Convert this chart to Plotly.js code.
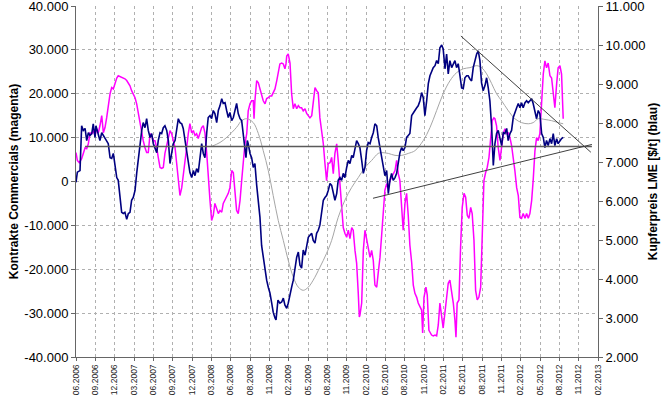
<!DOCTYPE html>
<html>
<head>
<meta charset="utf-8">
<script src="https://cdn.plot.ly/plotly-3.0.1.min.js"></script>
<style>html,body{margin:0;padding:0;background:#fff;}#chart{width:670px;height:395px;}</style>
</head>
<body>
<div id="chart"></div>
<script>
// x tick labels (one every 13 weeks)
const xLabels = ['06.2006','09.2006','12.2006','03.2007','06.2007','09.2007','12.2007','03.2008','06.2008','08.2008','11.2008','02.2009','05.2009','08.2009','11.2009','02.2010','05.2010','08.2010','11.2010','02.2011','05.2011','08.2011','11.2011','02.2012','05.2012','08.2012','11.2012','02.2013'];
const leftTicks = [-40000,-30000,-20000,-10000,0,10000,20000,30000,40000];
const leftTickText = ['-40.000','-30.000','-20.000','-10.000','0','10.000','20.000','30.000','40.000'];
const rightTicks = [2000,3000,4000,5000,6000,7000,8000,9000,10000,11000];
const rightTickText = ['2.000','3.000','4.000','5.000','6.000','7.000','8.000','9.000','10.000','11.000'];

// Copper price LME (navy, right axis), x in weeks since 06.2006
const copperWeeks = [0,0.9,2.7,3.8,4.9,6.1,7.2,8.3,9.4,10.6,11.6,12.8,13.4,15.0,16.1,17.3,18.4,19.5,20.6,21.7,22.9,24.0,25.1,26.2,27.4,28.4,29.6,30.7,31.8,32.9,34.1,35.2,36.3,37.4,38.5,39.7,40.8,41.9,43.0,44.2,45.2,46.4,47.5,48.6,49.8,50.9,52.0,53.1,54.3,55.3,56.5,57.6,58.7,59.8,61.0,62.1,63.2,64.3,65.4,66.6,67.7,68.8,69.9,71.1,72.1,73.3,74.4,75.5,76.6,77.8,78.9,80.0,81.1,82.2,83.4,84.5,85.6,86.7,87.9,88.9,90.1,91.2,92.3,93.4,94.6,95.7,96.8,98.0,99.0,100.2,101.3,102.4,103.5,104.7,105.8,106.9,108.0,109.1,110.3,111.4,112.5,113.6,114.3,115.2,115.8,117.0,118.1,119.2,120.3,121.5,122.6,123.7,124.8,125.9,127.1,128.2,129.3,130.4,131.6,132.6,133.8,134.5,135.8,137.1,138.3,139.4,140.5,141.7,142.7,143.9,145.0,146.1,147.2,148.4,149.5,150.6,151.7,152.8,154.0,155.1,156.2,157.3,158.5,159.5,160.7,161.8,162.9,164.0,165.2,166.3,167.4,168.5,169.6,170.8,171.9,173.0,174.1,175.3,176.3,177.5,178.6,179.7,180.8,182.0,183.1,184.2,185.4,186.4,187.6,188.7,189.8,190.9,192.1,193.2,194.3,195.4,196.5,197.7,198.8,199.9,201.0,202.2,203.2,204.4,205.5,206.6,207.7,208.9,210.0,211.1,212.2,213.3,214.5,215.6,216.7,217.8,219.0,220.0,221.2,222.3,223.4,224.5,225.7,226.8,227.9,229.1,230.1,231.3,232.4,233.5,234.6,235.8,236.9,238.0,239.1,240.2,241.4,242.5,243.6,244.7,245.9,246.9,248.1,249.2,250.3,251.4,252.6,253.7,254.8,255.9,257.0,258.2,259.3,260.4,261.5,262.7,263.7,264.9,266.0,267.1,268.2,269.4,270.5,271.6,272.7,273.8,275.0,276.1,277.2,278.3,279.5,280.6,281.7,282.8,283.9,285.1,286.2,287.3,288.4,289.6,290.6,291.8,292.9,294.0,295.1,296.3,297.4,298.5,299.6,300.7,301.9,303.0,304.1,305.2,306.4,307.4,308.6,309.7,310.8,311.9,313.1,314.2,315.3,316.4,317.5,318.7,319.8,320.9,322.0,323.2,324.2,325.4,326.5,327.6];
const copperPrice = [6480,6740,6780,7930,7810,7860,7550,7750,7680,7730,
7980,7630,7930,7730,7550,7750,7680,7600,7550,7470,
7110,7090,7220,6960,6600,6530,6090,5710,5680,5710,
5530,5680,5710,6020,6090,6270,6710,7110,7550,7810,
8010,7880,8110,7810,7630,7730,7470,7370,7240,7550,
7750,7730,7880,7930,7810,7550,6960,7220,7470,7550,
7880,8110,8010,7980,7860,7550,7220,6960,6730,6600,
6780,6650,6830,6730,7220,7470,7220,7110,7750,8140,
8190,8110,8320,8240,8010,8320,8440,8620,8500,8520,
8320,8140,8270,8060,8140,8320,8500,8240,8110,8060,
7730,7420,7110,7550,7470,7220,7110,6860,6960,6400,
6020,5580,4860,4560,4300,3970,3790,3640,3380,3150,
3000,2950,3460,3380,3410,3510,3330,3250,3380,3640,
3790,3970,4280,4560,4690,4350,4280,4740,4610,4810,
5070,5120,5170,4990,4920,5170,5250,5380,5760,6020,
6090,6140,6270,6450,6400,6220,6020,6190,6530,6600,
6530,6710,6600,6860,7040,6960,7170,7110,7370,7550,
7470,7370,7040,6710,6860,7290,7500,7470,7630,7750,
7980,7930,7630,7370,7170,6960,6650,6780,6190,6530,
6710,6530,6600,6710,6960,7240,7370,7290,7370,7630,
7680,7730,8190,8270,8320,8390,8440,8570,8780,8650,
8190,8570,9010,9210,9340,9420,9470,9600,9520,9930,
10000,9900,9390,9770,9260,9600,9420,9520,9600,9420,
9520,9210,8900,8880,9160,9210,9210,9130,9080,9420,
9600,9770,9850,9600,9030,8830,8960,9160,8900,8570,
7880,6910,7470,7730,7810,7550,7420,7750,7730,7860,
7550,7730,7810,8140,8240,8390,8500,8390,8520,8390,
8520,8570,8520,8570,8620,8500,8320,8110,8320,8240,
7730,7630,7370,7550,7420,7600,7470,7730,7420,7600,
7470,7550,7600,7630];

// Commercials net contracts (magenta, left axis)
const commWeeks = [0.0,0.9,2.2,3.8,4.9,6.1,7.2,8.3,9.4,10.6,11.6,12.8,13.9,15.0,16.1,17.3,18.4,19.5,20.6,21.7,22.9,24.0,25.1,26.2,27.4,28.4,29.6,30.7,31.8,32.9,34.1,35.2,36.3,37.4,38.5,39.7,40.8,41.9,43.0,44.2,45.2,46.4,47.5,48.6,49.8,50.9,52.0,53.1,54.3,55.3,56.5,57.6,58.7,59.8,61.0,62.1,63.2,64.3,65.4,66.6,67.7,68.8,69.9,71.1,72.1,73.3,74.4,75.5,76.6,77.8,78.9,80.0,81.1,82.2,83.4,84.5,85.6,86.7,87.9,88.9,90.1,91.2,92.3,93.4,94.6,95.7,96.8,98.0,99.0,100.2,101.3,102.4,103.5,104.7,105.8,106.9,108.0,109.1,110.3,111.4,112.5,113.6,114.8,115.8,117.0,118.1,119.2,119.7,120.3,121.5,122.6,123.7,124.8,125.9,127.1,128.2,129.3,130.4,131.6,132.6,133.8,135.0,136.1,137.1,138.3,139.4,140.5,141.2,141.7,142.7,143.9,145.0,146.1,147.2,148.4,149.5,150.6,151.7,152.8,154.0,155.1,156.2,157.3,158.5,159.5,160.7,161.8,162.9,164.0,165.2,166.3,167.4,168.5,169.6,170.8,171.9,173.0,174.1,175.3,176.3,177.5,178.6,179.7,180.8,182.0,183.1,184.2,185.4,186.4,187.6,188.7,189.8,190.5,190.9,192.1,193.2,194.3,195.4,196.5,197.7,198.8,199.9,201.0,202.2,203.2,204.4,205.5,206.6,207.7,208.9,210.0,211.1,212.2,213.3,214.5,215.6,216.7,217.8,219.0,220.0,221.2,222.3,223.4,224.5,225.7,226.8,227.9,229.1,230.1,231.3,232.4,233.1,234.0,235.3,236.2,237.3,239.1,240.2,241.4,242.5,243.6,244.7,245.9,246.9,248.1,249.2,250.3,251.4,252.6,253.7,254.8,255.5,256.3,257.5,258.6,259.7,260.9,262.0,263.1,264.2,265.4,266.4,267.6,268.7,269.8,270.9,272.1,273.2,274.3,275.4,276.5,277.7,278.8,279.9,281.0,281.7,282.8,283.9,285.1,286.2,287.3,288.4,289.6,290.6,291.8,292.9,294.0,295.1,296.3,297.4,298.5,299.6,300.7,301.9,303.0,304.1,305.2,306.4,307.4,308.6,309.7,310.8,311.9,313.1,314.2,315.3,316.4,317.5,318.7,319.8,320.9,322.0,323.2,324.2,325.4,326.5,327.6];
const commContracts = [6600,4800,4300,5200,6400,7700,7500,8600,11100,10900,11600,10500,12000,11100,12700,15000,11100,12300,14500,17700,20000,21400,21100,22300,23600,24100,23900,23600,23400,23400,23000,22300,21800,20700,20000,19100,17700,15500,13200,10900,9300,7700,6600,6600,10900,10500,9300,9300,7700,5500,3200,3000,3200,6400,8200,10000,11600,10900,9300,7700,4100,900,-3200,-1400,1800,4800,7700,10900,13200,11100,11600,10500,10900,9800,11100,12300,12700,11100,6400,200,-4300,-8900,-7700,-5000,-6100,-7300,-6600,-7000,-5000,-4300,-3600,-2700,-1400,2500,2000,-2700,-6600,-7300,-4300,200,5500,8600,10900,16100,17700,18400,18400,14300,18400,23000,22500,21100,20000,18400,17700,18900,19100,19500,19500,20200,21100,23000,24800,26800,27000,26800,25700,26800,28600,29100,27000,20000,16600,17700,16600,17300,16800,16800,16100,16600,15500,15000,14500,15000,18400,21400,20700,20200,14500,11600,8600,4100,200,4100,4300,5500,1800,6400,8600,4800,-1400,-7300,-10500,-11800,-12700,-11100,-13000,-10500,-11100,-15700,-18600,-25500,-30900,-30500,-27700,-15700,-11100,-13400,-15000,-17300,-15700,-18000,-23600,-24100,-20900,-17300,-12300,-7300,-2000,-500,-1400,200,900,1800,2500,4800,1800,200,-5900,-11100,-5000,-2700,-7700,-14500,-18400,-23600,-25500,-26400,-27700,-28600,-29300,-34500,-26400,-24100,-25900,-33900,-35000,-35200,-35000,-35200,-32700,-27700,-30500,-33400,-29800,-27000,-23200,-22500,-24800,-27700,-31600,-35500,-27700,-27000,-15000,-5900,-2700,-3600,-7700,-8400,-5900,-7300,-13400,-24800,-27000,-26400,-24100,-11800,200,2000,3200,5500,9300,13900,14500,14300,12700,7700,4800,8200,10900,12000,10900,11100,10000,8200,5500,2500,-1400,-3200,-8200,-8400,-7300,-8400,-7300,-8400,-7300,-4300,200,7000,10000,9300,10900,18400,24500,27500,25900,27000,24100,23600,20000,16800,22300,25900,26400,24500,14300];

// Moving average of copper price (gray, right axis)
const maWeeks = [91.2,96.8,101.3,108.0,111.4,114.8,119.2,122.6,125.9,129.3,132.6,136.0,139.4,142.7,146.1,149.5,152.8,156.2,159.5,164.0,168.5,171.9,176.3,180.8,185.4,189.8,194.3,198.8,203.2,205.5,210.0,214.5,219.0,223.4,227.9,233.5,238.0,242.5,246.9,251.4,255.9,260.4,264.9,269.4,272.7,276.1,279.5,282.8,286.2,290.6,295.1,299.6,304.1,307.4,310.8,315.3,319.8,324.2,327.6];
const maPrice = [7400,7500,7630,7890,8060,8110,8010,7730,7290,6780,6140,5500,4990,4480,4050,3790,3710,3790,3970,4300,4660,4990,5580,6020,6350,6600,6860,7040,7220,7240,7220,7170,7170,7220,7290,7550,7880,8320,8750,9080,9290,9390,9420,9470,9420,9260,9010,8750,8570,8320,8110,8010,7980,8010,8110,8090,8060,8010,7980];

// Trend lines (right axis)
const supportWeeks = [6.1, 346.9];
const supportLevel = [7400, 7400];
const upperTrendWeeks = [258.8, 346.2];
const upperTrendLevel = [10230, 7250];
const lowerTrendWeeks = [199.7, 346.9];
const lowerTrendLevel = [6070, 7450];

const WEEKS_PER_TICK = 13;
const xTickVals = xLabels.map((_, i) => i * WEEKS_PER_TICK);

const FONT = 'Liberation Sans, Arial, sans-serif';

const traces = [
  {x: commWeeks, y: commContracts, type: 'scatter', mode: 'lines', yaxis: 'y',
   line: {color: '#FF00FF', width: 1.5}, hoverinfo: 'skip'},
  {x: maWeeks, y: maPrice, type: 'scatter', mode: 'lines', yaxis: 'y2',
   line: {color: '#A6A6A6', width: 1, shape: 'spline'}, hoverinfo: 'skip'},
  {x: copperWeeks, y: copperPrice, type: 'scatter', mode: 'lines', yaxis: 'y2',
   line: {color: '#000080', width: 1.6}, hoverinfo: 'skip'},
  {x: supportWeeks, y: supportLevel, type: 'scatter', mode: 'lines', yaxis: 'y2',
   line: {color: '#5a5a5a', width: 1.5}, hoverinfo: 'skip'},
  {x: upperTrendWeeks, y: upperTrendLevel, type: 'scatter', mode: 'lines', yaxis: 'y2',
   line: {color: '#404040', width: 1}, hoverinfo: 'skip'},
  {x: lowerTrendWeeks, y: lowerTrendLevel, type: 'scatter', mode: 'lines', yaxis: 'y2',
   line: {color: '#404040', width: 1}, hoverinfo: 'skip'}
];

const layout = {
  width: 670, height: 395,
  margin: {l: 76, r: 72, t: 6, b: 38, pad: 0},
  paper_bgcolor: '#ffffff', plot_bgcolor: '#ffffff',
  showlegend: false,
  font: {family: FONT, color: '#000'},
  xaxis: {
    range: [0, 351], tickmode: 'array', tickvals: xTickVals, ticktext: xLabels,
    tickangle: -90, tickfont: {size: 8.5, color: '#222', family: FONT},
    ticklabeloverflow: 'allow',
    showgrid: true, gridcolor: '#b0b0b0', griddash: 'dot', gridwidth: 1,
    showline: true, linecolor: '#666', linewidth: 1,
    ticks: 'outside', ticklen: 3, tickcolor: '#666', zeroline: false, fixedrange: true
  },
  yaxis: {
    range: [-40000, 40000], tickmode: 'array', tickvals: leftTicks, ticktext: leftTickText,
    tickfont: {size: 13, color: '#000', family: FONT},
    ticklabeloverflow: 'allow',
    showgrid: true, gridcolor: '#b0b0b0', griddash: 'dot', gridwidth: 1,
    showline: true, linecolor: '#666', linewidth: 1,
    ticks: 'outside', ticklen: 4, tickcolor: '#666', zeroline: false,
    title: {text: 'Kontrakte Commercials (magenta)', font: {size: 12, family: FONT, weight: 'bold', color: '#000'}, standoff: 3},
    fixedrange: true
  },
  yaxis2: {
    range: [2000, 11000], overlaying: 'y', side: 'right', tickmode: 'array',
    tickvals: rightTicks, ticktext: rightTickText,
    tickfont: {size: 13, color: '#000', family: FONT},
    ticklabeloverflow: 'allow',
    showgrid: false, showline: true, linecolor: '#666', linewidth: 1,
    ticks: 'outside', ticklen: 4, tickcolor: '#666', zeroline: false,
    title: {text: 'Kupferpreis LME [$/t] (blau)', font: {size: 12, family: FONT, weight: 'bold', color: '#000'}, standoff: 4},
    fixedrange: true
  }
};

Plotly.newPlot('chart', traces, layout, {staticPlot: true, displayModeBar: false});
</script>
</body>
</html>
